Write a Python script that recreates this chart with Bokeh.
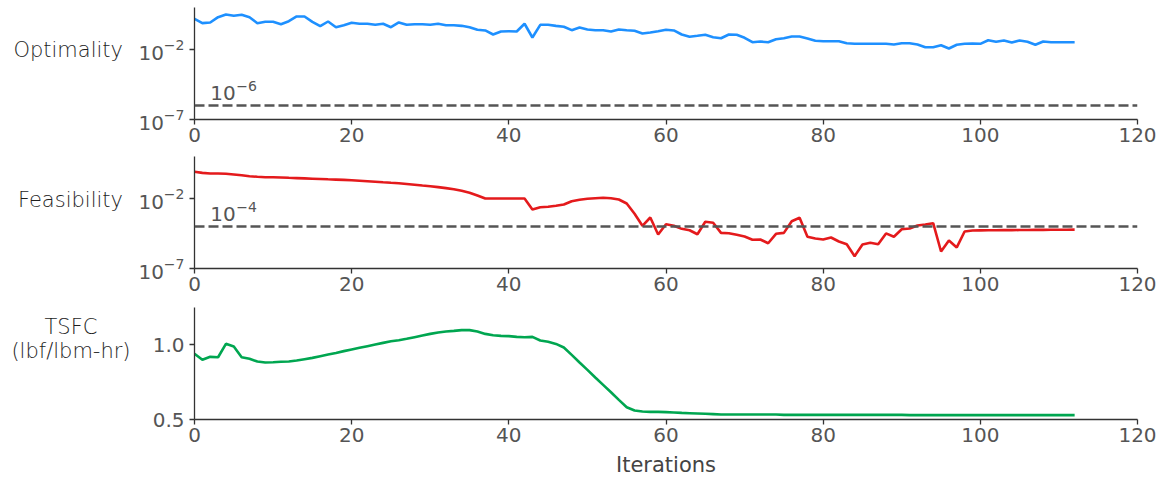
from bokeh.plotting import figure
from bokeh.layouts import column, row
from bokeh.models import (Range1d, FixedTicker, Span, Label, LogTickFormatter,
                          NumeralTickFormatter, Div)
from bokeh.embed import file_html
from bokeh.resources import INLINE

iterations = list(range(113))

optimality = [1.56, 0.76, 0.85, 2.03, 3.16, 2.55, 3.01, 2.03, 0.76, 0.95,
              0.95, 0.64, 1.05, 2.28, 2.28, 0.95, 0.46, 1.0, 0.39, 0.54,
              0.81, 0.69, 0.69, 0.58, 0.69, 0.39, 0.85, 0.58, 0.64, 0.64,
              0.58, 0.69, 0.54, 0.54, 0.49, 0.39, 0.255, 0.23, 0.118, 0.193,
              0.203, 0.193, 0.69, 0.072, 0.58, 0.58, 0.49, 0.42, 0.24, 0.37,
              0.27, 0.24, 0.24, 0.193, 0.27, 0.24, 0.217, 0.139, 0.164, 0.203,
              0.255, 0.23, 0.118, 0.081, 0.095, 0.112, 0.076, 0.064, 0.118, 0.112,
              0.069, 0.033, 0.037, 0.033, 0.054, 0.064, 0.085, 0.085, 0.061, 0.042,
              0.039, 0.039, 0.039, 0.028, 0.0255, 0.0255, 0.0255, 0.0255, 0.0255, 0.023,
              0.028, 0.028, 0.023, 0.0146, 0.0146, 0.0203, 0.0118, 0.0217, 0.0255, 0.0268,
              0.0255, 0.046, 0.0355, 0.044, 0.0316, 0.044, 0.0355, 0.0217, 0.037, 0.033,
              0.033, 0.033, 0.033]

feasibility = [0.81, 0.68, 0.61, 0.61, 0.58, 0.52, 0.46, 0.39, 0.355, 0.33,
               0.33, 0.316, 0.30, 0.286, 0.273, 0.26, 0.247, 0.235, 0.224, 0.213,
               0.203, 0.187, 0.172, 0.158, 0.144, 0.132, 0.124, 0.110, 0.097, 0.085,
               0.0755, 0.065, 0.055, 0.046, 0.0355, 0.0255, 0.0164, 0.010, 0.010, 0.010,
               0.010, 0.010, 0.010, 0.00164, 0.0024, 0.00255, 0.0030, 0.0037, 0.0064, 0.0081,
               0.0095, 0.0105, 0.0112, 0.0105, 0.0085, 0.0044, 0.00081, 1.12e-4, 4.4e-4, 2.7e-5,
               1.46e-4, 1.12e-4, 6.8e-5, 5.4e-5, 2.8e-5, 2.16e-4, 1.84e-4, 3.5e-5, 3.3e-5, 2.55e-5,
               1.93e-5, 1.12e-5, 1.18e-5, 6.4e-6, 3.0e-5, 3.5e-5, 2.39e-4, 4.2e-4, 1.84e-5, 1.39e-5,
               1.18e-5, 1.64e-5, 8.5e-6, 5.4e-6, 7.6e-7, 5.2e-6, 6.8e-6, 5.4e-6, 3.2e-5, 1.84e-5,
               6.4e-5, 7.2e-5, 1.18e-4, 1.39e-4, 1.72e-4, 1.64e-6, 1.0e-5, 3.2e-6, 4.4e-5, 5.2e-5,
               5.3e-5, 5.4e-5, 5.4e-5, 5.5e-5, 5.5e-5, 5.6e-5, 5.6e-5, 5.7e-5, 5.7e-5, 5.8e-5,
               5.8e-5, 5.9e-5, 6.0e-5]

tsfc = [0.938, 0.898, 0.918, 0.915, 1.005, 0.987, 0.915, 0.905, 0.887, 0.880,
        0.882, 0.885, 0.887, 0.893, 0.902, 0.911, 0.922, 0.933, 0.944, 0.956,
        0.967, 0.978, 0.989, 1.000, 1.011, 1.022, 1.029, 1.038, 1.049, 1.060,
        1.071, 1.080, 1.087, 1.091, 1.096, 1.096, 1.087, 1.071, 1.062, 1.058,
        1.056, 1.051, 1.049, 1.051, 1.027, 1.018, 1.004, 0.980, 0.931, 0.880,
        0.831, 0.780, 0.731, 0.682, 0.631, 0.582, 0.560, 0.553, 0.551, 0.551,
        0.549, 0.547, 0.544, 0.542, 0.540, 0.538, 0.536, 0.533, 0.533, 0.533,
        0.533, 0.533, 0.533, 0.533, 0.533, 0.531, 0.531, 0.531, 0.531, 0.531,
        0.531, 0.531, 0.531, 0.531, 0.531, 0.531, 0.531, 0.531, 0.531, 0.531,
        0.531, 0.529, 0.529, 0.529, 0.529, 0.529, 0.529, 0.529, 0.529, 0.529,
        0.529, 0.529, 0.529, 0.529, 0.529, 0.529, 0.529, 0.529, 0.529, 0.529,
        0.529, 0.529, 0.529]

x_ticks = [0, 20, 40, 60, 80, 100, 120]
log_ticks = [1e-7, 1e-2]
lin_ticks = [0.5, 1.0]
opt_tol = 1e-6
feas_tol = 1e-4

FONT = "DejaVu Sans"
TXT = "#555555"
AX = "#333333"
TOTAL_W = 1164
FRAME_LEFT = 194
RIGHT = 27


def style(p, yticks):
    p.xaxis.ticker = FixedTicker(ticks=x_ticks)
    p.yaxis.ticker = FixedTicker(ticks=yticks)
    for ax in (p.xaxis, p.yaxis):
        ax.axis_line_color = AX
        ax.axis_line_width = 1.3
        ax.major_tick_line_color = AX
        ax.major_tick_line_width = 1.3
        ax.major_tick_out = 5
        ax.major_tick_in = 0
        ax.minor_tick_line_color = None
        ax.major_label_text_font = FONT
        ax.major_label_text_font_size = "20px"
        ax.major_label_text_color = TXT
    p.xaxis.major_label_standoff = 3
    p.yaxis.major_label_standoff = 5
    p.xgrid.grid_line_color = None
    p.ygrid.grid_line_color = None
    p.outline_line_color = None
    p.min_border_right = RIGHT


def side_div(html, width, height, pad_top, align):
    style_txt = (f"font-family:'DejaVu Sans';font-size:21px;color:#1e1e1e;font-weight:300;"
                 f"text-align:{align};line-height:24px;padding-top:{pad_top}px;"
                 f"width:{width}px;white-space:nowrap;")
    return Div(text=f'<div style="{style_txt}">{html}</div>', width=width,
               height=height, margin=0)


def tol_label(p, y, exp):
    p.add_layout(Label(x=2, y=y, y_offset=6, text="10", text_align="left",
                       text_baseline="bottom", text_font=FONT, text_font_size="20px",
                       text_color=TXT))
    p.add_layout(Label(x=2, y=y, x_offset=26, y_offset=15, text=exp, text_align="left",
                       text_baseline="bottom", text_font=FONT, text_font_size="14px",
                       text_color=TXT))


# Optimality
H1 = 156
D1 = 123
p1 = figure(width=TOTAL_W - D1, height=H1, y_axis_type="log", x_range=Range1d(0, 120),
            y_range=Range1d(1e-7, 10), output_backend="svg", toolbar_location=None)
style(p1, log_ticks)
p1.min_border_left = FRAME_LEFT - D1
p1.min_border_top = 7
p1.min_border_bottom = 37
p1.yaxis.formatter = LogTickFormatter()
p1.line(iterations, optimality, line_color="#1e90ff", line_width=2.6)
p1.add_layout(Span(location=opt_tol, dimension="width", line_color="#555555",
                   line_width=2.5, line_dash="10 4"))
tol_label(p1, opt_tol, "\u22126")
r1 = row(side_div("Optimality", D1, H1, 38, "right"), p1, spacing=0)

# Feasibility
H2 = 151
p2 = figure(width=TOTAL_W - D1, height=H2, y_axis_type="log", x_range=p1.x_range,
            y_range=Range1d(1e-7, 10), output_backend="svg", toolbar_location=None)
style(p2, log_ticks)
p2.min_border_left = FRAME_LEFT - D1
p2.min_border_top = 0
p2.min_border_bottom = 39
p2.yaxis.formatter = LogTickFormatter()
p2.line(iterations, feasibility, line_color="#e41a1c", line_width=2.6)
p2.add_layout(Span(location=feas_tol, dimension="width", line_color="#555555",
                   line_width=2.5, line_dash="10 4"))
tol_label(p2, feas_tol, "\u22124")
r2 = row(side_div("Feasibility", D1, H2, 32, "right"), p2, spacing=0)

# TSFC
H3 = 176
D3 = 142
p3 = figure(width=TOTAL_W - D3, height=H3, x_range=p1.x_range, y_range=Range1d(0.5, 1.247),
            output_backend="svg", toolbar_location=None)
style(p3, lin_ticks)
p3.min_border_left = FRAME_LEFT - D3
p3.min_border_top = 0
p3.min_border_bottom = 64
p3.yaxis.formatter = NumeralTickFormatter(format="0.0")
p3.line(iterations, tsfc, line_color="#00a650", line_width=2.6)
p3.xaxis.axis_label = "Iterations"
p3.xaxis.axis_label_text_font = FONT
p3.xaxis.axis_label_text_font_size = "21px"
p3.xaxis.axis_label_text_font_style = "normal"
p3.xaxis.axis_label_text_color = "#444444"
p3.xaxis.axis_label_standoff = 8
r3 = row(side_div("TSFC<br>(lbf/lbm-hr)", D3, H3, 8, "center"), p3, spacing=0)

layout = column(r1, r2, r3, spacing=0)
open("out.html", "w").write(file_html(layout, INLINE))
